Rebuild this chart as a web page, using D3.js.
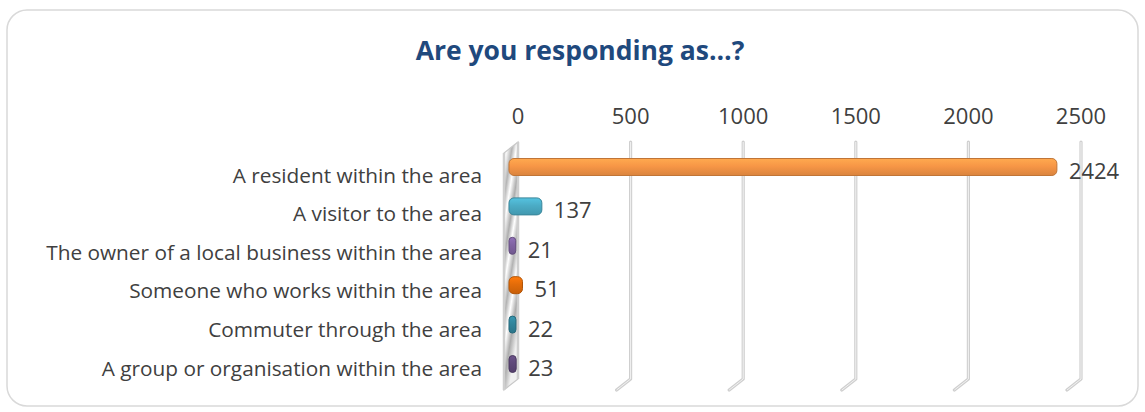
<!DOCTYPE html>
<html>
<head>
<meta charset="utf-8">
<script src="https://cdn.jsdelivr.net/npm/d3@7"></script>
<style>
  html, body { margin: 0; padding: 0; background: #fff; }
  svg { display: block; }
</style>
</head>
<body>
<svg id="chart" width="1145" height="412"></svg>
<script>
// Survey responses: "Are you responding as…?"
const categories = [
  "A resident within the area",
  "A visitor to the area",
  "The owner of a local business within the area",
  "Someone who works within the area",
  "Commuter through the area",
  "A group or organisation within the area"
];
const counts = [2424, 137, 21, 51, 22, 23];
const barColors = ["#F79646", "#4BACC6", "#8064A2", "#E36C09", "#31859C", "#5F497A"];
const tickValues = [0, 500, 1000, 1500, 2000, 2500];
const titleText = "Are you responding as…?";

const svg = d3.select("#chart");
const font = "'Open Sans', 'DejaVu Sans', sans-serif";
const textColor = "#404040";

// outer rounded frame
svg.append("rect")
  .attr("x", 7).attr("y", 10).attr("width", 1131).attr("height", 396)
  .attr("rx", 20).attr("ry", 20)
  .attr("fill", "#fff").attr("stroke", "#d9d9d9").attr("stroke-width", 1.5);

// title
svg.append("text")
  .attr("x", 580).attr("y", 50)
  .attr("text-anchor", "middle").attr("dominant-baseline", "central")
  .attr("font-family", font).attr("font-weight", "bold").attr("font-size", 26.5)
  .attr("fill", "#1F497D")
  .text(titleText);

// value scale on the back wall, and the 3D depth offset to the front plane
const x = d3.scaleLinear().domain([0, 2500]).range([518, 1081]);
const depth = { dx: -14, dy: 11 };
const barShift = { dx: -8, dy: 0 };
const plotTop = 142, plotBottom = 379;

// category scales: bar centres and axis label centres
const yBar = d3.scalePoint().domain(categories).range([167, 364]);
const yLabel = d3.scalePoint().domain(categories).range([174.5, 367.5]);

const defs = svg.append("defs");

// metallic gradient for the side wall
const wallGrad = defs.append("linearGradient")
  .attr("id", "wallGrad").attr("x1", "0").attr("y1", "0").attr("x2", "0.35").attr("y2", "1");
[[0, "#a8a8a8"], [0.08, "#ffffff"], [0.2, "#b4b4b4"], [0.3, "#ffffff"], [0.42, "#adadad"],
 [0.52, "#ffffff"], [0.63, "#b2b2b2"], [0.74, "#ffffff"], [0.86, "#acacac"], [1, "#f0f0f0"]]
  .forEach(([o, c]) => wallGrad.append("stop").attr("offset", o).attr("stop-color", c));

// bevelled bar gradients
barColors.forEach((c, i) => {
  const g = defs.append("linearGradient").attr("id", "barGrad" + i)
    .attr("x1", 0).attr("y1", 0).attr("x2", 0).attr("y2", 1);
  const base = d3.color(c);
  g.append("stop").attr("offset", 0).attr("stop-color", base.brighter(0.35));
  g.append("stop").attr("offset", 0.45).attr("stop-color", base);
  g.append("stop").attr("offset", 1).attr("stop-color", base.darker(0.35));
});

// gridlines: vertical on the back wall, then diagonal along the floor
const grid = svg.append("g");
tickValues.filter(v => v > 0).forEach(v => {
  const gx = x(v);
  const path = `M${gx},${plotTop} L${gx},${plotBottom} L${gx + depth.dx},${plotBottom + depth.dy}`;
  grid.append("path").attr("d", path).attr("fill", "none")
    .attr("stroke", "#cfcfcf").attr("stroke-width", 3.2)
    .attr("stroke-linejoin", "round").attr("stroke-linecap", "round");
  grid.append("path").attr("d", path).attr("fill", "none")
    .attr("stroke", "#f2f2f2").attr("stroke-width", 1)
    .attr("stroke-linejoin", "round");
});

// side wall at zero
const x0 = x(0);
const wallPts = [[x0, plotTop], [x0 + depth.dx, plotTop + depth.dy],
                 [x0 + depth.dx, plotBottom + depth.dy], [x0, plotBottom]];
svg.append("polygon")
  .attr("points", wallPts.map(p => p.join(",")).join(" "))
  .attr("fill", "url(#wallGrad)").attr("stroke", "#c8c8c8").attr("stroke-width", 1.2);
svg.append("line")
  .attr("x1", x0).attr("x2", x0).attr("y1", plotTop).attr("y2", plotBottom)
  .attr("stroke", "#cfcfcf").attr("stroke-width", 2.5);
svg.append("line")
  .attr("x1", x0 + depth.dx).attr("x2", x0 + depth.dx)
  .attr("y1", plotTop + depth.dy).attr("y2", plotBottom + depth.dy)
  .attr("stroke", "#cfcfcf").attr("stroke-width", 2.5);

// tick labels above the plot
svg.append("g").selectAll("text").data(tickValues).join("text")
  .attr("x", d => x(d)).attr("y", 115)
  .attr("text-anchor", "middle").attr("dominant-baseline", "central")
  .attr("font-family", font).attr("font-size", 22).attr("fill", textColor)
  .text(d => d);

// bars
const barH = 17;
const data = categories.map((c, i) => ({ cat: c, value: counts[i], i }));
const barStart = d => x(0) + barShift.dx - 1;
const barEnd = d => x(d.value) + barShift.dx + 1;

svg.append("g").selectAll("rect").data(data).join("rect")
  .attr("x", d => barStart(d))
  .attr("y", d => yBar(d.cat) - barH / 2)
  .attr("width", d => barEnd(d) - barStart(d))
  .attr("height", barH)
  .attr("rx", d => Math.min(5, (barEnd(d) - barStart(d)) / 2))
  .attr("fill", d => `url(#barGrad${d.i})`)
  .attr("stroke", d => d3.color(barColors[d.i]).darker(0.7))
  .attr("stroke-width", 1);

// value labels
svg.append("g").selectAll("text").data(data).join("text")
  .attr("x", d => barEnd(d) + 12)
  .attr("y", d => yBar(d.cat) + 3)
  .attr("dominant-baseline", "central")
  .attr("font-family", font).attr("font-size", 22).attr("fill", textColor)
  .text(d => d.value);

// category labels
svg.append("g").selectAll("text").data(categories).join("text")
  .attr("x", 482).attr("y", d => yLabel(d))
  .attr("text-anchor", "end").attr("dominant-baseline", "central")
  .attr("font-family", font).attr("font-size", 20.8).attr("fill", textColor)
  .text(d => d);
</script>
</body>
</html>
